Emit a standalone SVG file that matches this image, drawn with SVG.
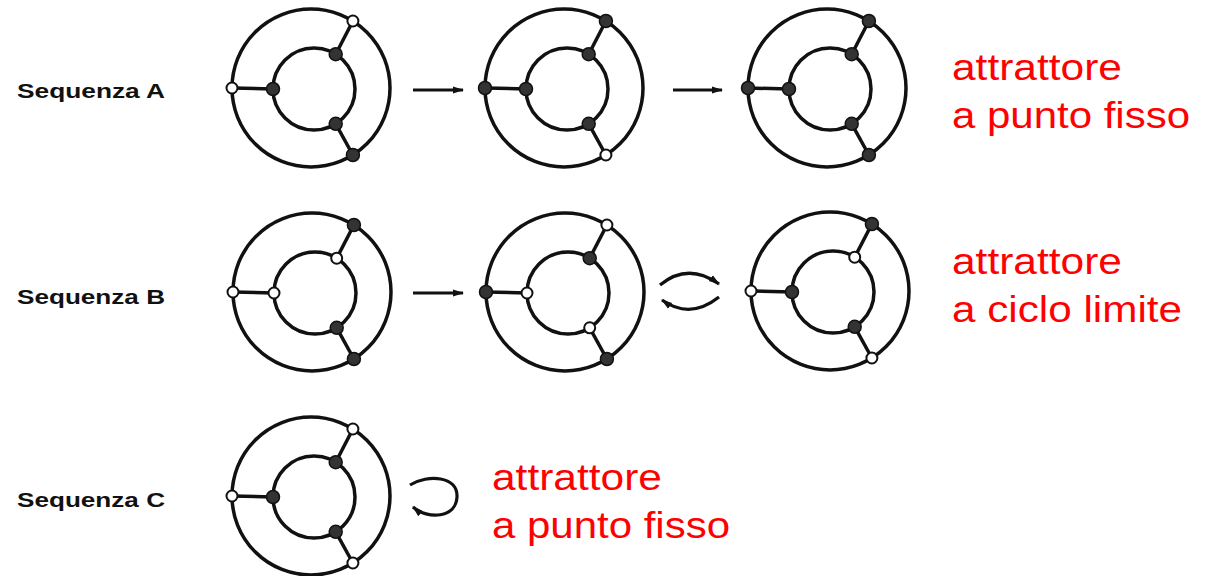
<svg xmlns="http://www.w3.org/2000/svg" width="1206" height="576" viewBox="0 0 1206 576">
<style>
.ring{fill:none;stroke:#111;stroke-width:3.5}
.b{fill:#333;stroke:#111;stroke-width:1.5}
.w{fill:#fff;stroke:#111;stroke-width:2}
.lab{font-family:"Liberation Sans",Arial,sans-serif;font-weight:bold;font-size:21px;fill:#111}
.red{font-family:"Liberation Sans",Arial,sans-serif;font-size:36px;fill:#ff0000}
.con{fill:none;stroke:#111;stroke-width:3.2}
</style>
<defs>
<marker id="ah" markerUnits="userSpaceOnUse" markerWidth="14" markerHeight="10" refX="10" refY="5" orient="auto">
<path d="M0,1.5 L11,5 L0,8.5 Z" fill="#111"/>
</marker>
<g id="ring">
<circle class="ring" cx="0" cy="0" r="79"/>
<circle class="ring" cx="3" cy="1" r="41"/>
<line class="ring" x1="-79" y1="0" x2="-38" y2="1"/>
<line class="ring" x1="41.9" y1="-67" x2="24.7" y2="-33.8"/>
<line class="ring" x1="41.9" y1="67" x2="24.7" y2="35.8"/>
</g>
</defs>
<rect width="1206" height="576" fill="#fff"/>

<text class="lab" x="17" y="98" textLength="148" lengthAdjust="spacingAndGlyphs">Sequenza A</text>
<text class="lab" x="17" y="304" textLength="148" lengthAdjust="spacingAndGlyphs">Sequenza B</text>
<text class="lab" x="17" y="507" textLength="148" lengthAdjust="spacingAndGlyphs">Sequenza C</text>

<g id="A1" transform="translate(311,88)">
<use href="#ring"/>
<circle class="w" cx="-79" cy="0" r="5.5"/><circle class="b" cx="-38" cy="1" r="6.5"/>
<circle class="w" cx="41.9" cy="-67" r="5.5"/><circle class="b" cx="24.7" cy="-33.8" r="6.5"/>
<circle class="b" cx="24.7" cy="35.8" r="6.5"/><circle class="b" cx="41.9" cy="67" r="6.5"/>
</g>
<g id="A2" transform="translate(564,88)">
<use href="#ring"/>
<circle class="b" cx="-79" cy="0" r="6.5"/><circle class="b" cx="-38" cy="1" r="6.5"/>
<circle class="b" cx="41.9" cy="-67" r="6.5"/><circle class="b" cx="24.7" cy="-33.8" r="6.5"/>
<circle class="b" cx="24.7" cy="35.8" r="6.5"/><circle class="w" cx="41.9" cy="67" r="5.5"/>
</g>
<g id="A3" transform="translate(827,88)">
<use href="#ring"/>
<circle class="b" cx="-79" cy="0" r="6.5"/><circle class="b" cx="-38" cy="1" r="6.5"/>
<circle class="b" cx="41.9" cy="-67" r="6.5"/><circle class="b" cx="24.7" cy="-33.8" r="6.5"/>
<circle class="b" cx="24.7" cy="35.8" r="6.5"/><circle class="b" cx="41.9" cy="67" r="6.5"/>
</g>
<g id="B1" transform="translate(312,292)">
<use href="#ring"/>
<circle class="w" cx="-79" cy="0" r="5.5"/><circle class="w" cx="-38" cy="1" r="5.5"/>
<circle class="b" cx="41.9" cy="-67" r="6.5"/><circle class="w" cx="24.7" cy="-33.8" r="5.5"/>
<circle class="b" cx="24.7" cy="35.8" r="6.5"/><circle class="b" cx="41.9" cy="67" r="6.5"/>
</g>
<g id="B2" transform="translate(565,292)">
<use href="#ring"/>
<circle class="b" cx="-79" cy="0" r="6.5"/><circle class="w" cx="-38" cy="1" r="5.5"/>
<circle class="w" cx="41.9" cy="-67" r="5.5"/><circle class="b" cx="24.7" cy="-33.8" r="6.5"/>
<circle class="w" cx="24.7" cy="35.8" r="5.5"/><circle class="b" cx="41.9" cy="67" r="6.5"/>
</g>
<g id="B3" transform="translate(830,291)">
<use href="#ring"/>
<circle class="w" cx="-79" cy="0" r="5.5"/><circle class="b" cx="-38" cy="1" r="6.5"/>
<circle class="b" cx="41.9" cy="-67" r="6.5"/><circle class="w" cx="24.7" cy="-33.8" r="5.5"/>
<circle class="b" cx="24.7" cy="35.8" r="6.5"/><circle class="w" cx="41.9" cy="67" r="5.5"/>
</g>
<g id="C1" transform="translate(311,496)">
<use href="#ring"/>
<circle class="w" cx="-79" cy="0" r="5.5"/><circle class="b" cx="-38" cy="1" r="6.5"/>
<circle class="w" cx="41.9" cy="-67" r="5.5"/><circle class="b" cx="24.7" cy="-33.8" r="6.5"/>
<circle class="b" cx="24.7" cy="35.8" r="6.5"/><circle class="w" cx="41.9" cy="67" r="5.5"/>
</g>

<g id="connectors">
<line class="con" x1="413" y1="90" x2="463" y2="90" marker-end="url(#ah)"/>
<line class="con" x1="673" y1="90" x2="722" y2="90" marker-end="url(#ah)"/>
<line class="con" x1="413" y1="293" x2="463" y2="293" marker-end="url(#ah)"/>
<path class="con" d="M660,285 Q688,262 719,284" marker-end="url(#ah)"/>
<path class="con" d="M719,297 Q690,320 662,300" marker-end="url(#ah)"/>
<path class="con" d="M410,485 C428,474 458,476 457,497 C456,518 428,520 413,507" marker-end="url(#ah)"/>
</g>

<text class="red" x="952" y="80" textLength="170" lengthAdjust="spacingAndGlyphs">attrattore</text>
<text class="red" x="952" y="128" textLength="238" lengthAdjust="spacingAndGlyphs">a punto fisso</text>
<text class="red" x="952" y="274" textLength="170" lengthAdjust="spacingAndGlyphs">attrattore</text>
<text class="red" x="952" y="322" textLength="230" lengthAdjust="spacingAndGlyphs">a ciclo limite</text>
<text class="red" x="492" y="490" textLength="170" lengthAdjust="spacingAndGlyphs">attrattore</text>
<text class="red" x="492" y="538" textLength="238" lengthAdjust="spacingAndGlyphs">a punto fisso</text>
</svg>
